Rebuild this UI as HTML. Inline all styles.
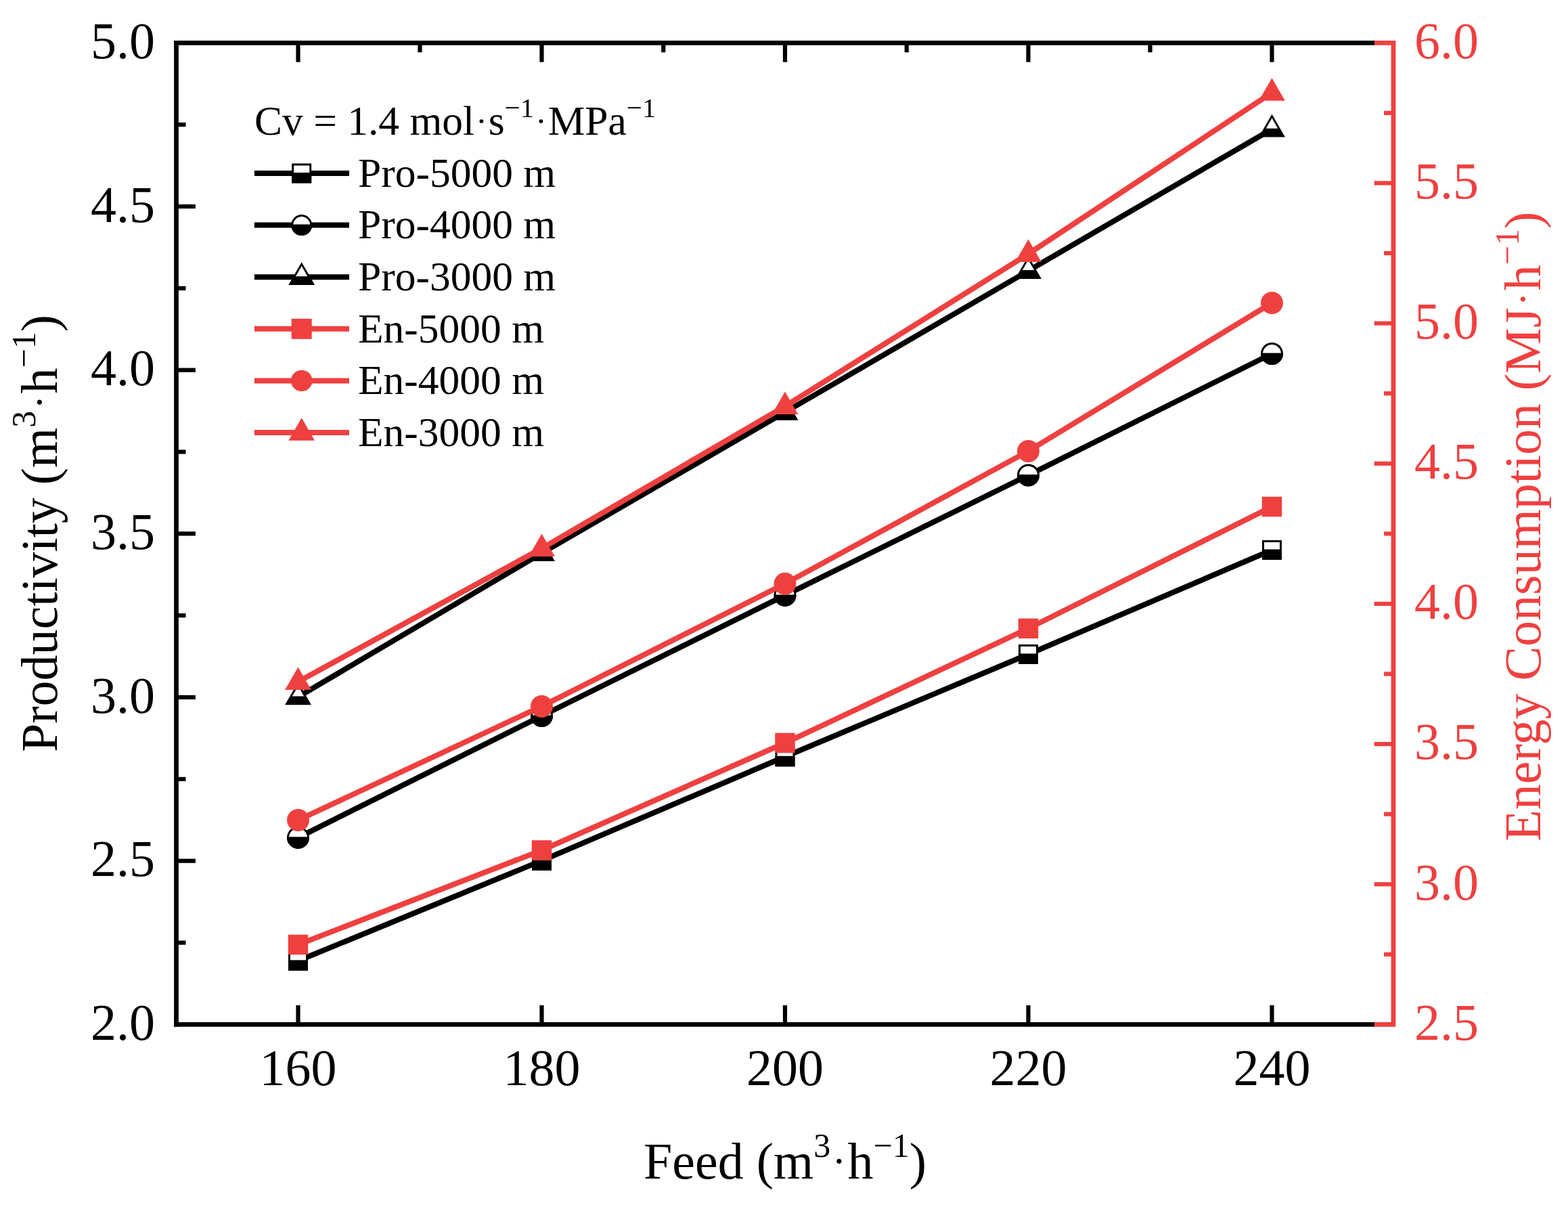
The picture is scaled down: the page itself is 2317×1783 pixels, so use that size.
<!DOCTYPE html><html><head><meta charset="utf-8"><style>
html,body{margin:0;padding:0;background:#fff;}
svg{display:block;}
text{font-family:"Liberation Serif","Times New Roman",serif;}
</style></head><body>
<svg width="2317" height="1783" viewBox="0 0 2317 1783">
<rect width="2317" height="1783" fill="#fff"/>
<polyline points="440.50,1419.30 800.50,1271.40 1160.00,1117.80 1519.50,966.50 1879.50,812.50" fill="none" stroke="#000" stroke-width="8.0" stroke-linejoin="miter"/>
<polyline points="440.50,1237.30 800.50,1057.50 1160.00,879.40 1519.50,702.00 1879.50,522.50" fill="none" stroke="#000" stroke-width="8.0" stroke-linejoin="miter"/>
<polyline points="440.50,1029.50 800.50,817.10 1160.00,608.90 1519.50,400.10 1879.50,190.70" fill="none" stroke="#000" stroke-width="8.0" stroke-linejoin="miter"/>
<rect x="427.50" y="1406.30" width="26.00" height="26.00" fill="#fff" stroke="#000" stroke-width="3.0"/><rect x="426.00" y="1418.30" width="29.00" height="15.50" fill="#000"/>
<rect x="787.50" y="1258.40" width="26.00" height="26.00" fill="#fff" stroke="#000" stroke-width="3.0"/><rect x="786.00" y="1270.40" width="29.00" height="15.50" fill="#000"/>
<rect x="1147.00" y="1104.80" width="26.00" height="26.00" fill="#fff" stroke="#000" stroke-width="3.0"/><rect x="1145.50" y="1116.80" width="29.00" height="15.50" fill="#000"/>
<rect x="1506.50" y="953.50" width="26.00" height="26.00" fill="#fff" stroke="#000" stroke-width="3.0"/><rect x="1505.00" y="965.50" width="29.00" height="15.50" fill="#000"/>
<rect x="1866.50" y="799.50" width="26.00" height="26.00" fill="#fff" stroke="#000" stroke-width="3.0"/><rect x="1865.00" y="811.50" width="29.00" height="15.50" fill="#000"/>
<circle cx="440.50" cy="1237.30" r="15.00" fill="#fff" stroke="#000" stroke-width="3.0"/><path d="M424.03,1236.30 A16.50,16.50 0 1 0 456.97,1236.30 Z" fill="#000"/>
<circle cx="800.50" cy="1057.50" r="15.00" fill="#fff" stroke="#000" stroke-width="3.0"/><path d="M784.03,1056.50 A16.50,16.50 0 1 0 816.97,1056.50 Z" fill="#000"/>
<circle cx="1160.00" cy="879.40" r="15.00" fill="#fff" stroke="#000" stroke-width="3.0"/><path d="M1143.53,878.40 A16.50,16.50 0 1 0 1176.47,878.40 Z" fill="#000"/>
<circle cx="1519.50" cy="702.00" r="15.00" fill="#fff" stroke="#000" stroke-width="3.0"/><path d="M1503.03,701.00 A16.50,16.50 0 1 0 1535.97,701.00 Z" fill="#000"/>
<circle cx="1879.50" cy="522.50" r="15.00" fill="#fff" stroke="#000" stroke-width="3.0"/><path d="M1863.03,521.50 A16.50,16.50 0 1 0 1895.97,521.50 Z" fill="#000"/>
<polygon points="440.50,1007.60 459.96,1041.30 421.04,1041.30" fill="#000"/><polygon points="440.50,1013.40 449.22,1028.50 431.78,1028.50" fill="#fff"/>
<polygon points="800.50,795.20 819.96,828.90 781.04,828.90" fill="#000"/><polygon points="800.50,801.00 809.22,816.10 791.78,816.10" fill="#fff"/>
<polygon points="1160.00,587.00 1179.46,620.70 1140.54,620.70" fill="#000"/><polygon points="1160.00,592.80 1168.72,607.90 1151.28,607.90" fill="#fff"/>
<polygon points="1519.50,378.20 1538.96,411.90 1500.04,411.90" fill="#000"/><polygon points="1519.50,384.00 1528.22,399.10 1510.78,399.10" fill="#fff"/>
<polygon points="1879.50,168.80 1898.96,202.50 1860.04,202.50" fill="#000"/><polygon points="1879.50,174.60 1888.22,189.70 1870.78,189.70" fill="#fff"/>
<polyline points="440.50,1395.50 800.50,1256.00 1160.00,1097.50 1519.50,928.40 1879.50,748.50" fill="none" stroke="#EF4040" stroke-width="8.0" stroke-linejoin="miter"/>
<polyline points="440.50,1211.40 800.50,1043.40 1160.00,862.30 1519.50,666.40 1879.50,447.50" fill="none" stroke="#EF4040" stroke-width="8.0" stroke-linejoin="miter"/>
<polyline points="440.50,1007.10 800.50,810.10 1160.00,600.10 1519.50,375.10 1879.50,136.90" fill="none" stroke="#EF4040" stroke-width="8.0" stroke-linejoin="miter"/>
<rect x="425.75" y="1380.75" width="29.50" height="29.50" fill="#EF4040"/>
<rect x="785.75" y="1241.25" width="29.50" height="29.50" fill="#EF4040"/>
<rect x="1145.25" y="1082.75" width="29.50" height="29.50" fill="#EF4040"/>
<rect x="1504.75" y="913.65" width="29.50" height="29.50" fill="#EF4040"/>
<rect x="1864.75" y="733.75" width="29.50" height="29.50" fill="#EF4040"/>
<circle cx="440.50" cy="1211.40" r="16.50" fill="#EF4040"/>
<circle cx="800.50" cy="1043.40" r="16.50" fill="#EF4040"/>
<circle cx="1160.00" cy="862.30" r="16.50" fill="#EF4040"/>
<circle cx="1519.50" cy="666.40" r="16.50" fill="#EF4040"/>
<circle cx="1879.50" cy="447.50" r="16.50" fill="#EF4040"/>
<polygon points="440.50,985.40 459.84,1018.90 421.16,1018.90" fill="#EF4040"/>
<polygon points="800.50,788.40 819.84,821.90 781.16,821.90" fill="#EF4040"/>
<polygon points="1160.00,578.40 1179.34,611.90 1140.66,611.90" fill="#EF4040"/>
<polygon points="1519.50,353.40 1538.84,386.90 1500.16,386.90" fill="#EF4040"/>
<polygon points="1879.50,115.20 1898.84,148.70 1860.16,148.70" fill="#EF4040"/>
<path d="M260.50,1516.80 V59.90" stroke="#000" stroke-width="6.8" fill="none"/>
<path d="M257.10,63.30 H2031.00" stroke="#000" stroke-width="6.8" fill="none"/>
<path d="M257.10,1513.40 H2031.00" stroke="#000" stroke-width="6.8" fill="none"/>
<path d="M2031.00,63.30 H2059.00 V1513.40 H2031.00" stroke="#EF4040" stroke-width="6.8" fill="none" stroke-linejoin="miter"/>
<path d="M440.50,1513.40 V1485.00" stroke="#000" stroke-width="6.2"/>
<path d="M440.50,63.30 V91.70" stroke="#000" stroke-width="6.2"/>
<path d="M800.50,1513.40 V1485.00" stroke="#000" stroke-width="6.2"/>
<path d="M800.50,63.30 V91.70" stroke="#000" stroke-width="6.2"/>
<path d="M1160.00,1513.40 V1485.00" stroke="#000" stroke-width="6.2"/>
<path d="M1160.00,63.30 V91.70" stroke="#000" stroke-width="6.2"/>
<path d="M1519.50,1513.40 V1485.00" stroke="#000" stroke-width="6.2"/>
<path d="M1519.50,63.30 V91.70" stroke="#000" stroke-width="6.2"/>
<path d="M1879.50,1513.40 V1485.00" stroke="#000" stroke-width="6.2"/>
<path d="M1879.50,63.30 V91.70" stroke="#000" stroke-width="6.2"/>
<path d="M620.50,63.30 V77.30" stroke="#000" stroke-width="6.2"/>
<path d="M980.25,63.30 V77.30" stroke="#000" stroke-width="6.2"/>
<path d="M1339.75,63.30 V77.30" stroke="#000" stroke-width="6.2"/>
<path d="M1699.50,63.30 V77.30" stroke="#000" stroke-width="6.2"/>
<path d="M260.50,1392.56 H274.50" stroke="#000" stroke-width="6.2"/>
<path d="M260.50,1271.72 H288.90" stroke="#000" stroke-width="6.2"/>
<path d="M260.50,1150.88 H274.50" stroke="#000" stroke-width="6.2"/>
<path d="M260.50,1030.03 H288.90" stroke="#000" stroke-width="6.2"/>
<path d="M260.50,909.19 H274.50" stroke="#000" stroke-width="6.2"/>
<path d="M260.50,788.35 H288.90" stroke="#000" stroke-width="6.2"/>
<path d="M260.50,667.51 H274.50" stroke="#000" stroke-width="6.2"/>
<path d="M260.50,546.67 H288.90" stroke="#000" stroke-width="6.2"/>
<path d="M260.50,425.83 H274.50" stroke="#000" stroke-width="6.2"/>
<path d="M260.50,304.98 H288.90" stroke="#000" stroke-width="6.2"/>
<path d="M260.50,184.14 H274.50" stroke="#000" stroke-width="6.2"/>
<path d="M2059.00,1409.82 H2045.00" stroke="#EF4040" stroke-width="6.2"/>
<path d="M2059.00,1306.24 H2030.60" stroke="#EF4040" stroke-width="6.2"/>
<path d="M2059.00,1202.66 H2045.00" stroke="#EF4040" stroke-width="6.2"/>
<path d="M2059.00,1099.09 H2030.60" stroke="#EF4040" stroke-width="6.2"/>
<path d="M2059.00,995.51 H2045.00" stroke="#EF4040" stroke-width="6.2"/>
<path d="M2059.00,891.93 H2030.60" stroke="#EF4040" stroke-width="6.2"/>
<path d="M2059.00,788.35 H2045.00" stroke="#EF4040" stroke-width="6.2"/>
<path d="M2059.00,684.77 H2030.60" stroke="#EF4040" stroke-width="6.2"/>
<path d="M2059.00,581.19 H2045.00" stroke="#EF4040" stroke-width="6.2"/>
<path d="M2059.00,477.61 H2030.60" stroke="#EF4040" stroke-width="6.2"/>
<path d="M2059.00,374.04 H2045.00" stroke="#EF4040" stroke-width="6.2"/>
<path d="M2059.00,270.46 H2030.60" stroke="#EF4040" stroke-width="6.2"/>
<path d="M2059.00,166.88 H2045.00" stroke="#EF4040" stroke-width="6.2"/>
<text x="440.50" y="1602.7" font-size="76" text-anchor="middle">160</text>
<text x="800.50" y="1602.7" font-size="76" text-anchor="middle">180</text>
<text x="1160.00" y="1602.7" font-size="76" text-anchor="middle">200</text>
<text x="1519.50" y="1602.7" font-size="76" text-anchor="middle">220</text>
<text x="1879.50" y="1602.7" font-size="76" text-anchor="middle">240</text>
<text x="229" y="1536.10" font-size="76" text-anchor="end">2.0</text>
<text x="229" y="1294.42" font-size="76" text-anchor="end">2.5</text>
<text x="229" y="1052.73" font-size="76" text-anchor="end">3.0</text>
<text x="229" y="811.05" font-size="76" text-anchor="end">3.5</text>
<text x="229" y="569.37" font-size="76" text-anchor="end">4.0</text>
<text x="229" y="327.68" font-size="76" text-anchor="end">4.5</text>
<text x="229" y="86.00" font-size="76" text-anchor="end">5.0</text>
<text x="2090" y="1535.70" font-size="76" fill="#EF4040">2.5</text>
<text x="2090" y="1328.54" font-size="76" fill="#EF4040">3.0</text>
<text x="2090" y="1121.39" font-size="76" fill="#EF4040">3.5</text>
<text x="2090" y="914.23" font-size="76" fill="#EF4040">4.0</text>
<text x="2090" y="707.07" font-size="76" fill="#EF4040">4.5</text>
<text x="2090" y="499.91" font-size="76" fill="#EF4040">5.0</text>
<text x="2090" y="292.76" font-size="76" fill="#EF4040">5.5</text>
<text x="2090" y="85.60" font-size="76" fill="#EF4040">6.0</text>
<text x="951" y="1741.1" font-size="76"><tspan >Feed </tspan><tspan >(m</tspan><tspan dy="-32.00" font-size="50.0">3</tspan><tspan dx="2.53" dy="26.97" font-size="60.8">·</tspan><tspan dx="2.53" dy="5.03">h</tspan><tspan dy="-32.00" font-size="50.0">−1</tspan><tspan dy="32.00">)</tspan></text>
<text transform="translate(84.1,1111) rotate(-90)" font-size="76"><tspan >Productivity </tspan><tspan >(m</tspan><tspan dy="-32.00" font-size="50.0">3</tspan><tspan dx="2.53" dy="26.97" font-size="60.8">·</tspan><tspan dx="2.53" dy="5.03">h</tspan><tspan dy="-32.00" font-size="50.0">−1</tspan><tspan dy="32.00">)</tspan></text>
<text transform="translate(2275.6,1242.7) rotate(-90)" font-size="76" fill="#EF4040"><tspan >Energy Consumption (MJ</tspan><tspan dx="2.53" dy="-5.03" font-size="60.8">·</tspan><tspan dx="2.53" dy="5.03">h</tspan><tspan dy="-32.00" font-size="50.0">−1</tspan><tspan dy="32.00">)</tspan></text>
<text x="376" y="199.2" font-size="61.5"><tspan >Cv = 1.4 mol</tspan><tspan dx="2.05" dy="-4.07" font-size="49.2">·</tspan><tspan dx="2.05" dy="4.07">s</tspan><tspan dy="-26.30" font-size="41.0">−1</tspan><tspan dx="2.05" dy="22.23" font-size="49.2">·</tspan><tspan dx="2.05" dy="4.07">MPa</tspan><tspan dy="-26.30" font-size="41.0">−1</tspan></text>
<path d="M375.9,256.0 H516.0" stroke="#000" stroke-width="8"/>
<rect x="432.70" y="243.00" width="26.00" height="26.00" fill="#fff" stroke="#000" stroke-width="3.0"/><rect x="431.20" y="255.00" width="29.00" height="15.50" fill="#000"/>
<text x="529" y="275.70" font-size="61.5">Pro-5000 m</text>
<path d="M375.9,332.6 H516.0" stroke="#000" stroke-width="8"/>
<circle cx="445.70" cy="332.60" r="14.00" fill="#fff" stroke="#000" stroke-width="3.0"/><path d="M430.23,331.60 A15.50,15.50 0 1 0 461.17,331.60 Z" fill="#000"/>
<text x="529" y="352.30" font-size="61.5">Pro-4000 m</text>
<path d="M375.9,409.2 H516.0" stroke="#000" stroke-width="8"/>
<polygon points="445.70,387.30 465.16,421.00 426.24,421.00" fill="#000"/><polygon points="445.70,393.10 454.42,408.20 436.98,408.20" fill="#fff"/>
<text x="529" y="428.90" font-size="61.5">Pro-3000 m</text>
<path d="M375.9,485.8 H516.0" stroke="#EF4040" stroke-width="8"/>
<rect x="430.70" y="470.80" width="30.00" height="30.00" fill="#EF4040"/>
<text x="529" y="505.50" font-size="61.5">En-5000 m</text>
<path d="M375.9,562.4 H516.0" stroke="#EF4040" stroke-width="8"/>
<circle cx="445.70" cy="562.40" r="15.75" fill="#EF4040"/>
<text x="529" y="582.10" font-size="61.5">En-4000 m</text>
<path d="M375.9,639.0 H516.0" stroke="#EF4040" stroke-width="8"/>
<polygon points="445.70,617.30 465.04,650.80 426.36,650.80" fill="#EF4040"/>
<text x="529" y="658.70" font-size="61.5">En-3000 m</text>
</svg></body></html>
